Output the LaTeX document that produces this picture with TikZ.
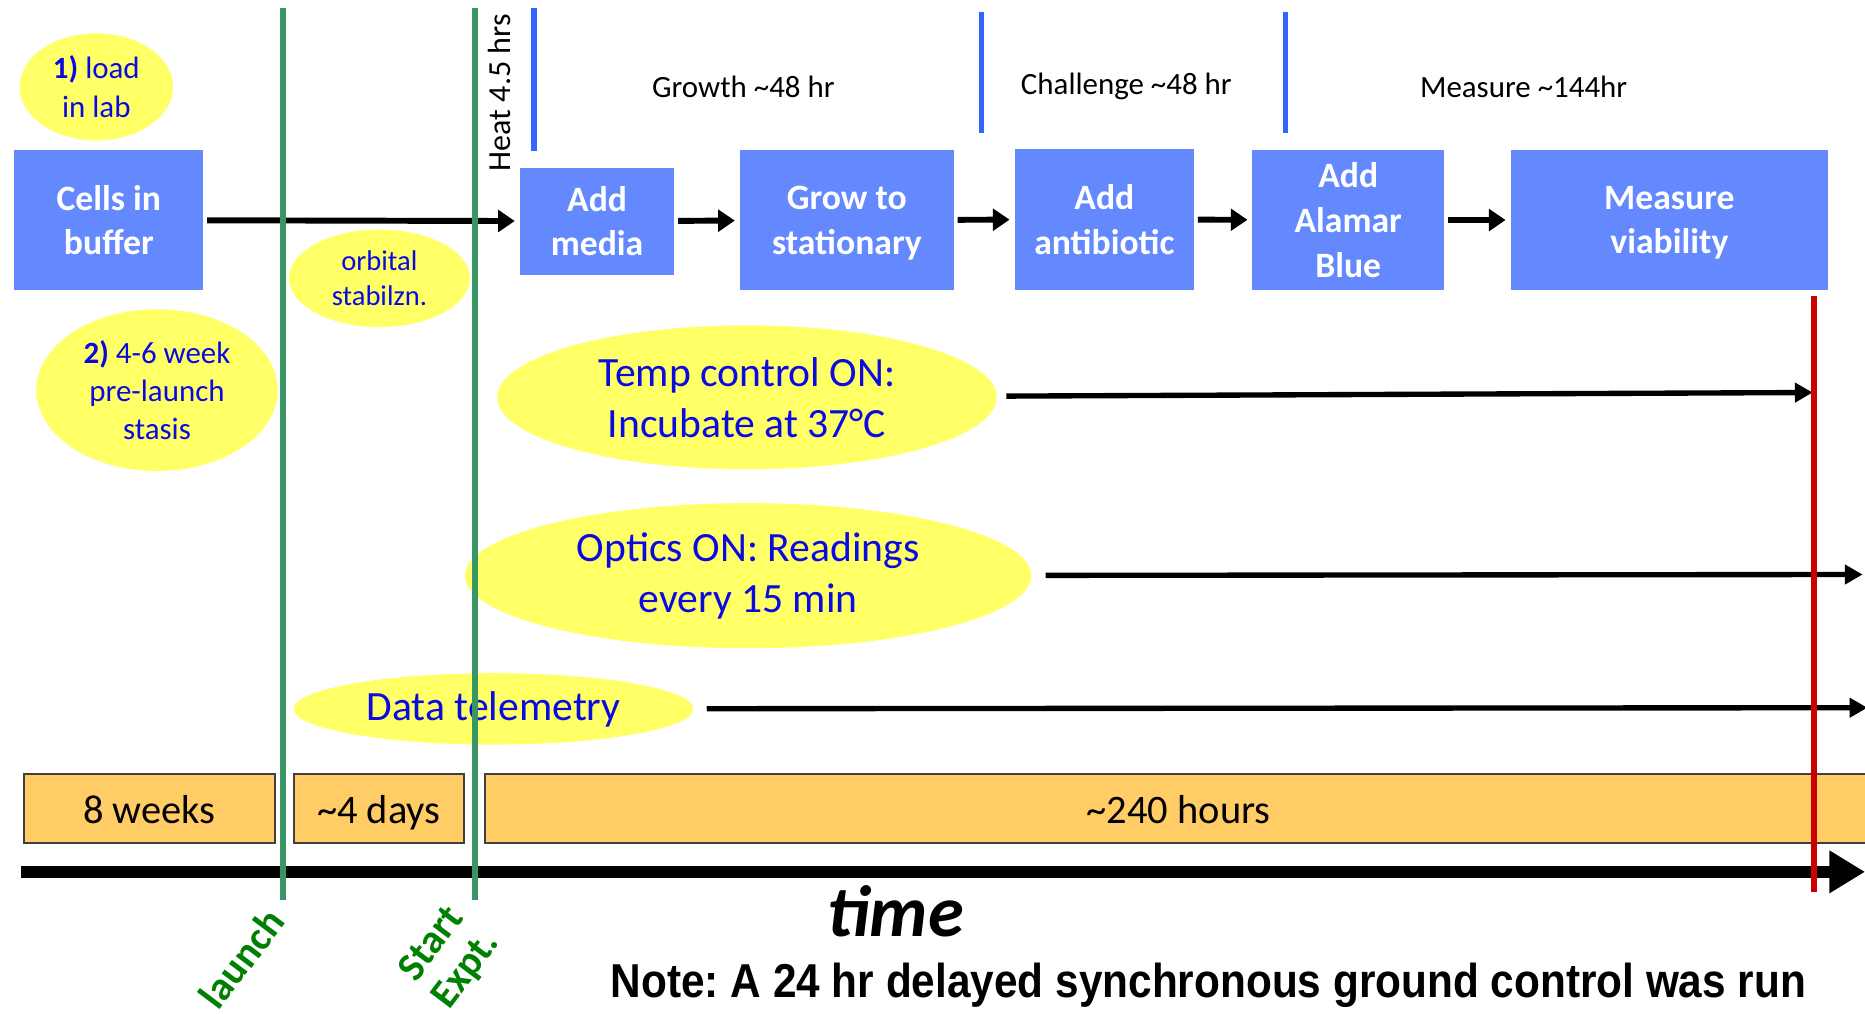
\documentclass[tikz,border=0pt]{standalone}
\usepackage{fontspec}
\setmainfont{Carlito}
\newfontfamily\notefont[FakeStretch=0.89]{Liberation Sans}
\usepackage{tikz}
\usetikzlibrary{shapes.geometric}
\usetikzlibrary{arrows.meta}

\definecolor{boxblue}{RGB}{100,137,255}
\definecolor{ellyellow}{RGB}{255,255,102}
\definecolor{txtblue}{RGB}{10,10,225}
\definecolor{markgreen}{RGB}{55,150,100}
\definecolor{lblgreen}{RGB}{0,128,0}
\definecolor{phaseblue}{RGB}{50,100,255}
\definecolor{endred}{RGB}{204,0,0}
\definecolor{spanorange}{RGB}{255,204,102}

\newcommand{\fsz}[2]{\fontsize{#1}{#2}\selectfont}
\frenchspacing

\begin{document}
\begin{tikzpicture}[x=1pt,y=-1pt,
	flowbox/.style={fill=boxblue, text=white, align=center, inner sep=0pt, font=\bfseries\fsz{30}{37.5}},
	callout/.style={ellipse, fill=ellyellow, text=txtblue, align=center, inner sep=0pt},
	spanbox/.style={draw=black!75, line width=1.5pt, fill=spanorange, inner sep=0pt, minimum height=58pt, text height=28pt, text depth=4pt, font=\fsz{34}{40}},
	flowarrow/.style={->, line width=5pt, >={Triangle[length=14pt,width=18pt]}, shorten <=3pt, shorten >=4pt},
	longarrow/.style={->, line width=4.5pt, >={Triangle[length=15pt,width=16pt]}},
	milestone/.style={line width=5pt, markgreen},
	phaseline/.style={line width=4.5pt, phaseblue},
	phaselabel/.style={font=\fsz{26}{30}},
	mslabel/.style={text=lblgreen, rotate=53, align=center, font=\bfseries\fsz{34}{36}}]
				\useasboundingbox (0,0) rectangle (1568,852);

				\node[flowbox, minimum width=159pt, minimum height=118pt] (cells) at (91.5,185) {Cells in\\buffer};
				\node[flowbox, minimum width=130pt, minimum height=90pt] (media) at (502,186) {Add\\media};
				\node[flowbox, minimum width=180pt, minimum height=118pt, text depth=0pt] (grow) at (712,185) {Grow to\\stationary};
				\node[flowbox, minimum width=151pt, minimum height=119pt] (antib) at (928.5,184.5) {Add\\antibiotic};
				\node[flowbox, minimum width=161pt, minimum height=118pt] (alamar) at (1133.5,185) {Add\\Alamar\\Blue};
				\node[flowbox, minimum width=267pt, minimum height=118pt, text depth=0pt] (measure) at (1403.5,185) {Measure\\viability};

				\path[flowarrow]
				(cells) edge (media)
				(media) edge (grow)
				(grow) edge (antib)
				(antib) edge (alamar)
				(alamar) edge (measure)
				;

				\node[phaselabel] (growth) at (625,73) {Growth \textasciitilde 48 hr};
				\node[phaselabel] (challenge) at (947,73) {Challenge \textasciitilde 48 hr};
				\node[phaselabel] (measuring) at (1281,73) {Measure \textasciitilde 144hr};
				\node[phaselabel, font=\fsz{27}{30}, rotate=90] (heat) at (420,78) {Heat 4.5 hrs};

				\node[callout, minimum width=129pt, minimum height=90pt, font=\fsz{26}{33}] (load) at (81,73) {\textbf{1)} load\\in lab};
				\node[callout, minimum width=203pt, minimum height=136pt, font=\fsz{26}{32}] (prelaunch) at (132,328) {\textbf{2)} 4-6 week\\pre-launch\\stasis};
				\node[callout, minimum width=152pt, minimum height=82pt, font=\fsz{24}{29}] (orbital) at (319,234) {orbital\\stabilzn.};
				\node[callout, minimum width=420pt, minimum height=121pt, font=\fsz{35}{43}] (temp) at (628,334) {Temp control ON:\\Incubate at 37°C};
				\node[callout, minimum width=476pt, minimum height=122pt, font=\fsz{35}{43}] (optics) at (629,484) {Optics ON: Readings\\every 15 min};
				\node[callout, minimum width=336pt, minimum height=60pt, font=\fsz{35}{43}] (telem) at (415,596) {Data telemetry};

				\coordinate (tempend) at (1524,330);
				\coordinate (opticsend) at (1566,483);
				\coordinate (telemend) at (1570,595);
				\draw[longarrow, shorten <=8pt] (temp) -- (tempend);
				\draw[longarrow, shorten <=12pt] (optics) -- (opticsend);
				\draw[longarrow, shorten <=11pt] (telem) -- (telemend);

				\node[spanbox, minimum width=211pt] (weeks) at (125.5,680) {8 weeks};
				\node[spanbox, minimum width=143pt] (days) at (318.5,680) {\textasciitilde 4 days};
				\node[spanbox, minimum width=1166pt] (hours) at (991,680) {\textasciitilde 240 hours};

				\coordinate (t0) at (18,733);
				\coordinate (t1) at (1568,733);
				\draw[->, line width=10pt, >={Triangle[length=30pt,width=34pt]}] (t0) -- (t1);
				\node[font=\bfseries\itshape\fsz{61}{62}] (time) at (753,766) {time};
				\node[font=\notefont\bfseries\fsz{40}{42}] (note) at (1016,828) {Note: A 24 hr delayed synchronous ground control was run};

				\coordinate (g1top) at (449,7);
				\coordinate (g1bot) at (449,127);
				\coordinate (g2top) at (825,10);
				\coordinate (g2bot) at (825,112);
				\coordinate (g3top) at (1081,10);
				\coordinate (g3bot) at (1081,112);
				\draw[phaseline] (g1top) -- (g1bot);
				\draw[phaseline] (g2top) -- (g2bot);
				\draw[phaseline] (g3top) -- (g3bot);

				\coordinate (launchtop) at (238,7);
				\coordinate (launchbot) at (238,757);
				\coordinate (starttop) at (399,7);
				\coordinate (startbot) at (399,757);
				\draw[milestone] (launchtop) -- (launchbot);
				\draw[milestone] (starttop) -- (startbot);
				\node[mslabel] (launch) at (203,806) {launch};
				\node[mslabel] (startexp) at (378,805) {Start\\Expt.};

				\coordinate (endtop) at (1525,249);
				\coordinate (endbot) at (1525,750);
				\draw[line width=4.5pt, endred] (endtop) -- (endbot);
\end{tikzpicture}
\end{document}
